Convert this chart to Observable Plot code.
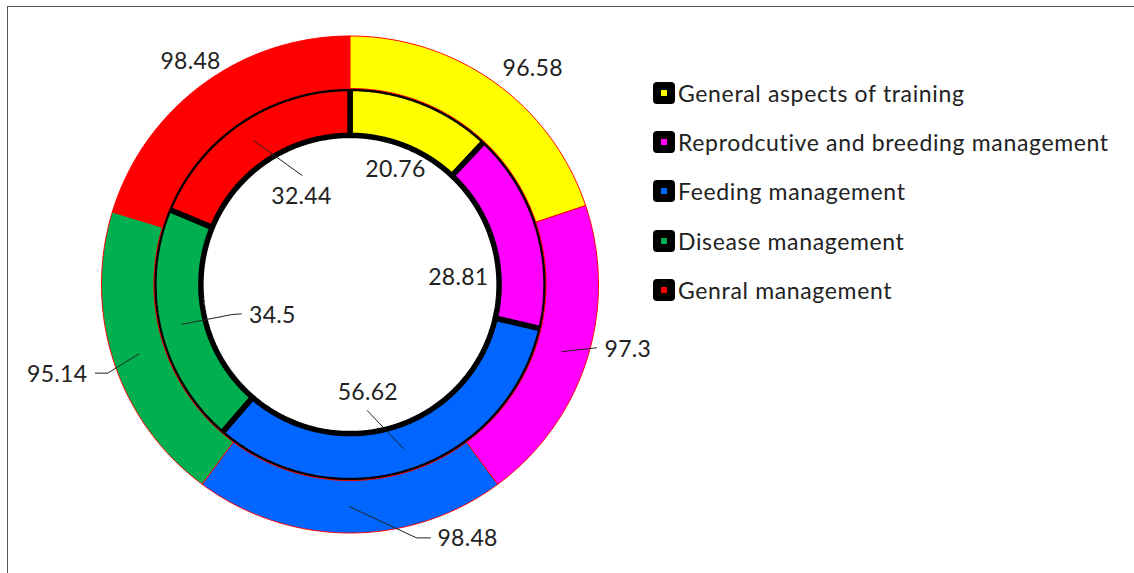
<!DOCTYPE html>
<html>
<head>
<meta charset="utf-8">
<script src="https://cdn.jsdelivr.net/npm/d3@7"></script>
<script src="https://cdn.jsdelivr.net/npm/@observablehq/plot@0.6"></script>
<style>
  html, body { margin: 0; padding: 0; background: #fff; }
  #wrap { position: relative; width: 1134px; height: 573px; overflow: hidden; font-family: Lato, "Open Sans", sans-serif; }
  #frame { position: absolute; left: 7px; top: 6px; width: 1140px; height: 600px; border-top: 1.5px solid #555; border-left: 1.5px solid #555; box-sizing: border-box; pointer-events: none; }
  #legend { position: absolute; left: 653px; top: 82px; }
  .row { display: flex; align-items: center; height: 22px; margin-bottom: 27.2px; }
  .mk { width: 22px; height: 22px; background: #000; border-radius: 4px; position: relative; flex: none; }
  .mk span { position: absolute; left: 8px; top: 8px; width: 6px; height: 6px; }
  .lt { margin-left: 3px; font-size: 23px; letter-spacing: 0.65px; color: #222; white-space: nowrap; line-height: 22px; }
  #chart svg { display: block; }
  #chart text { letter-spacing: 0.3px; }
</style>
</head>
<body>
<div id="wrap">
  <div id="chart"></div>
  <div id="frame"></div>
  <div id="legend"></div>
</div>
<script>
// ---- data ----
const categories = ["General aspects of training", "Reprodcutive and breeding management", "Feeding management", "Disease management", "Genral management"];
const outerValues = [96.58, 97.3, 98.48, 95.14, 98.48];
const innerValues = [20.76, 28.81, 56.62, 34.5, 32.44];
const colors = ["#FFFF00", "#FF00FF", "#0066FF", "#00B050", "#FF0000"];

// ---- layout (radii in units of the outer radius, angles clockwise from 12 o'clock) ----
const R_OUT = 1.0, R_MID = 0.789, R_IN = 0.600;
const outerLabelLayout = [
  {angle: 40.3, r: 1.137, anchor: "middle"},
  {angle: 104.3, r: 1.057, anchor: "start", leader: [[104.4, 1.024]]},
  {angle: 161.0, r: 1.081, anchor: "start", leader: [[165.3, 1.054], [162.4, 1.070]]},
  {angle: 251.1, r: 1.117, anchor: "end", leader: [[249.9, 1.038], [250.8, 1.085]]},
  {angle: 324.4, r: 1.102, anchor: "middle"}
];
const innerLabelLayout = [
  {angle: 21.5, r: 0.499, anchor: "middle"},
  {angle: 86.3, r: 0.437, anchor: "middle"},
  {angle: 170.6, r: 0.439, anchor: "middle", leader: [[172.2, 0.512]]},
  {angle: 247.9, r: 0.337, anchor: "middle", leader: [[255.7, 0.489], [254.9, 0.453]]},
  {angle: 331.0, r: 0.403, anchor: "middle", leader: [[336.3, 0.479]]}
];

function polar(deg, r) {
  const a = deg * Math.PI / 180;
  return {x: r * Math.sin(a), y: r * Math.cos(a)};
}
function ringSlices(values, r0, r1) {
  const total = d3.sum(values);
  let cum = 0;
  return values.map((v, i) => {
    const a0 = cum / total * 360;
    cum += v;
    const a1 = cum / total * 360;
    const n = Math.max(2, Math.ceil((a1 - a0) / 0.5));
    const pts = [];
    for (let k = 0; k <= n; k++) pts.push({...polar(a0 + (a1 - a0) * k / n, r1), i});
    for (let k = n; k >= 0; k--) pts.push({...polar(a0 + (a1 - a0) * k / n, r0), i});
    return {i, value: v, a0, a1, mid: (a0 + a1) / 2, pts};
  });
}

const outer = ringSlices(outerValues, R_MID, R_OUT);
const inner = ringSlices(innerValues, R_IN, R_MID);

function labelData(slices, layout) {
  return slices.map((s, i) => ({...polar(layout[i].angle, layout[i].r), text: String(s.value), anchor: layout[i].anchor}));
}
function leaderData(slices, layout, rMid) {
  const out = [];
  slices.forEach((s, i) => {
    const L = layout[i].leader;
    if (!L) return;
    out.push({...polar(s.mid, rMid), id: i});
    L.forEach(([a, r]) => out.push({...polar(a, r), id: i}));
  });
  return out;
}

const outerLabels = labelData(outer, outerLabelLayout);
const innerLabels = labelData(inner, innerLabelLayout);
const outerLeaders = leaderData(outer, outerLabelLayout, (R_OUT + R_MID) / 2);
const innerLeaders = leaderData(inner, innerLabelLayout, (R_MID + R_IN) / 2);

const textOpts = {fontSize: 23, fontFamily: "Lato, 'Open Sans', sans-serif", fill: "#222"};
const textMarks = (labels) => ["start", "middle", "end"].map(anchor =>
  Plot.text(labels.filter(d => d.anchor === anchor), {x: "x", y: "y", text: "text", textAnchor: anchor, ...textOpts})
);

const marks = [
  ...inner.map(s => Plot.line(s.pts, {x: "x", y: "y", curve: "linear-closed", fill: colors[s.i], stroke: "#000", strokeWidth: 5.5, strokeLinejoin: "miter"})),
  ...outer.map(s => Plot.line(s.pts, {x: "x", y: "y", curve: "linear-closed", fill: colors[s.i], stroke: "#FF0000", strokeWidth: 1})),
  Plot.line(outerLeaders, {x: "x", y: "y", z: "id", stroke: "#222", strokeWidth: 1}),
  Plot.line(innerLeaders, {x: "x", y: "y", z: "id", stroke: "#222", strokeWidth: 1}),
  ...textMarks(outerLabels),
  ...textMarks(innerLabels)
];

const chart = Plot.plot({
  width: 1134,
  height: 573,
  margin: 0,
  x: {domain: [-1.4064, 3.157], range: [0, 1134], axis: null},
  y: {domain: [-1.163, 1.1429], range: [573, 0], axis: null},
  style: {background: "#fff", overflow: "visible"},
  marks
});
document.getElementById("chart").appendChild(chart);

// ---- legend ----
const legend = document.getElementById("legend");
categories.forEach((c, i) => {
  const row = document.createElement("div");
  row.className = "row";
  const mk = document.createElement("div");
  mk.className = "mk";
  const sw = document.createElement("span");
  sw.style.background = colors[i];
  mk.appendChild(sw);
  const t = document.createElement("div");
  t.className = "lt";
  t.textContent = c;
  row.appendChild(mk);
  row.appendChild(t);
  legend.appendChild(row);
});
</script>
</body>
</html>
